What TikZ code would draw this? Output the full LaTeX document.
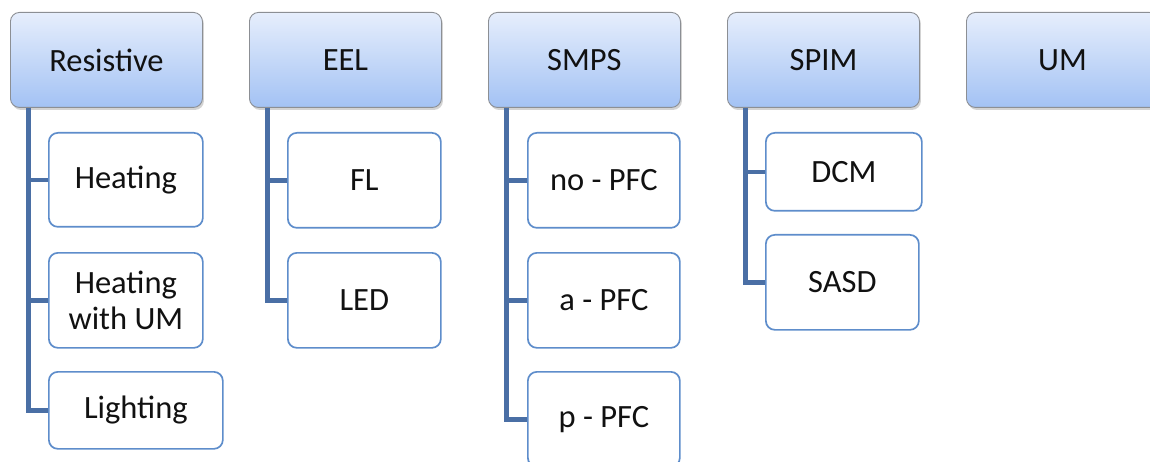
\documentclass[tikz,border=0pt]{standalone}
\usepackage{fontspec}
\setmainfont{Carlito}
\usetikzlibrary{shadows}
\definecolor{hdtop}{HTML}{E6EEFC}
\definecolor{hdbot}{HTML}{A3C2F4}
\definecolor{hdline}{HTML}{8C8F94}
\definecolor{chline}{HTML}{5E8DCB}
\definecolor{conncol}{HTML}{4A6FA5}
\definecolor{txt}{HTML}{111111}
\tikzset{
  header/.style={anchor=north west, rounded corners=9pt, draw=hdline, line width=0.9pt,
    top color=hdtop, bottom color=hdbot, minimum width=192pt, minimum height=95pt,
    inner sep=0pt, text=txt, font=\fontsize{32.5}{36}\selectfont,
    drop shadow={opacity=0.35, shadow xshift=1.5pt, shadow yshift=-2.5pt}},
  child/.style={anchor=north west, rounded corners=9pt, draw=chline, line width=1.7pt,
    fill=white, minimum width=153pt, minimum height=95pt, inner sep=0pt,
    text=txt, align=center, font=\fontsize{32.5}{36}\selectfont},
  conn/.style={draw=conncol, line width=4.4pt}
}
\begin{document}
\begin{tikzpicture}[x=1pt,y=-1pt]
\useasboundingbox (0,0) rectangle (1150,462);
\clip (0,0) rectangle (1150,462);
\node[header] (res) at (10,12) {Resistive};
\node[header] (eel) at (249,12) {EEL};
\node[header] (smps) at (488,12) {SMPS};
\node[header] (spim) at (727,12) {SPIM};
\node[header] (um) at (966,12) {UM};

\coordinate (rest) at ([xshift=18.5pt]res.south west);
\coordinate (eelt) at ([xshift=18.5pt]eel.south west);
\coordinate (smpst) at ([xshift=18.5pt]smps.south west);
\coordinate (spimt) at ([xshift=18.5pt]spim.south west);

\node[child, minimum width=154pt, minimum height=94pt] (heat) at (48,132) {Heating};
\node[child, minimum width=154pt] (hwum) at (48,252) {Heating\\with UM};
\node[child, minimum width=174pt, minimum height=77pt] (light) at (48,371) {Lighting};

\node[child] (fl) at (287,132) {FL};
\node[child] (led) at (287,252) {LED};

\node[child, minimum width=152pt] (nopfc) at (527,132) {no - PFC};
\node[child, minimum width=152pt] (apfc) at (527,252) {a - PFC};
\node[child, minimum width=152pt] (ppfc) at (527,371) {p - PFC};

\node[child, minimum width=156pt, minimum height=78pt] (dcm) at (765,132) {DCM};
\node[child] (sasd) at (765,234) {SASD};

\draw[conn] (rest) |- (heat.west);
\draw[conn] (rest) |- (hwum.west);
\draw[conn] (rest) |- (light.west);
\draw[conn] (eelt) |- (fl.west);
\draw[conn] (eelt) |- (led.west);
\draw[conn] (smpst) |- (nopfc.west);
\draw[conn] (smpst) |- (apfc.west);
\draw[conn] (smpst) |- (ppfc.west);
\draw[conn] (spimt) |- (dcm.west);
\draw[conn] (spimt) |- (sasd.west);
\end{tikzpicture}
\end{document}
